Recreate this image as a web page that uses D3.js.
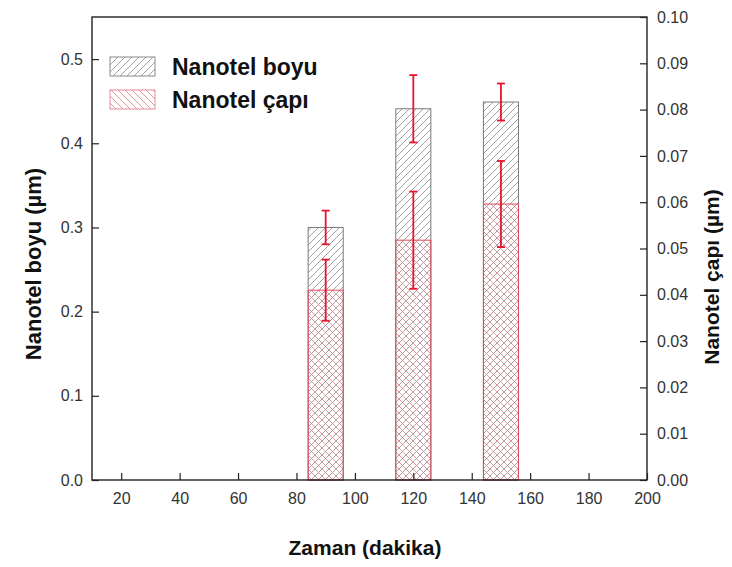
<!DOCTYPE html>
<html>
<head>
<meta charset="utf-8">
<script src="https://cdn.jsdelivr.net/npm/d3@7"></script>
<style>
  html, body { margin: 0; padding: 0; background: #fff; }
  svg { display: block; }
  text { font-family: "Liberation Sans", Arial, sans-serif; }
</style>
</head>
<body>
<svg id="chart" width="732" height="567"></svg>
<script>
// Growth time (minutes) and measured nanowire dimensions
const times = [90, 120, 150];
const lengthMean = [0.300, 0.441, 0.449];   // Nanotel boyu (µm), left axis
const lengthErr = [0.020, 0.040, 0.022];
const diameterMean = [0.0410, 0.0518, 0.0596]; // Nanotel çapı (µm), right axis
const diameterErr = [0.0066, 0.0105, 0.0093];

const xTicks = [20, 40, 60, 80, 100, 120, 140, 160, 180, 200];
const leftTicks = [0.0, 0.1, 0.2, 0.3, 0.4, 0.5];
const rightTicks = [0.00, 0.01, 0.02, 0.03, 0.04, 0.05, 0.06, 0.07, 0.08, 0.09, 0.10];
const barWidthMin = 12;

const margin = { left: 92, right: 85, top: 17, bottom: 87 };
const W = 732, H = 567;
const svg = d3.select("#chart");

const x = d3.scaleLinear().domain([10, 200]).range([margin.left, W - margin.right]);
const yL = d3.scaleLinear().domain([0, 0.55]).range([H - margin.bottom, margin.top]);
const yR = d3.scaleLinear().domain([0, 0.10]).range([H - margin.bottom, margin.top]);

// Hatch patterns
const defs = svg.append("defs");
const pBoy = defs.append("pattern").attr("id", "hatchBoy")
  .attr("patternUnits", "userSpaceOnUse").attr("width", 7).attr("height", 7);
pBoy.append("path").attr("d", "M-1,8 L8,-1 M-2,2 L2,-2 M5,9 L9,5")
  .attr("stroke", "#8a8a8a").attr("stroke-width", 0.8);
const pCap = defs.append("pattern").attr("id", "hatchCap")
  .attr("patternUnits", "userSpaceOnUse").attr("width", 7).attr("height", 7);
pCap.append("path").attr("d", "M-1,-1 L8,8 M-2,5 L2,9 M5,-2 L9,2")
  .attr("stroke", "#e07a88").attr("stroke-width", 0.8);

const y0 = H - margin.bottom;

// Length bars (gray hatch)
svg.append("g").selectAll("rect").data(times).join("rect")
  .attr("x", (d) => x(d - barWidthMin / 2))
  .attr("width", (d) => x(d + barWidthMin / 2) - x(d - barWidthMin / 2))
  .attr("y", (d, i) => yL(lengthMean[i]))
  .attr("height", (d, i) => y0 - yL(lengthMean[i]))
  .attr("fill", "url(#hatchBoy)")
  .attr("stroke", "#7a7a7a").attr("stroke-width", 1);

// Diameter bars (red hatch) overlaid
svg.append("g").selectAll("rect").data(times).join("rect")
  .attr("x", (d) => x(d - barWidthMin / 2))
  .attr("width", (d) => x(d + barWidthMin / 2) - x(d - barWidthMin / 2))
  .attr("y", (d, i) => yR(diameterMean[i]))
  .attr("height", (d, i) => y0 - yR(diameterMean[i]))
  .attr("fill", "url(#hatchCap)")
  .attr("stroke", "#e04a5c").attr("stroke-width", 1);

// Error bars
function errorBars(means, errs, scale) {
  const g = svg.append("g").attr("stroke", "#e8142e").attr("stroke-width", 1.8).attr("fill", "none");
  times.forEach((t, i) => {
    const cx = x(t);
    const top = scale(means[i] + errs[i]);
    const bot = scale(means[i] - errs[i]);
    g.append("line").attr("x1", cx).attr("x2", cx).attr("y1", top).attr("y2", bot);
    g.append("line").attr("x1", cx - 4).attr("x2", cx + 4).attr("y1", top).attr("y2", top);
    g.append("line").attr("x1", cx - 4).attr("x2", cx + 4).attr("y1", bot).attr("y2", bot);
  });
}
errorBars(lengthMean, lengthErr, yL);
errorBars(diameterMean, diameterErr, yR);

// Frame
svg.append("rect")
  .attr("x", margin.left).attr("y", margin.top)
  .attr("width", W - margin.right - margin.left)
  .attr("height", H - margin.bottom - margin.top)
  .attr("fill", "none").attr("stroke", "#111").attr("stroke-width", 1.3);

const tickColor = "#222";
const labelColor = "#333";
const tickFont = 16;

// Bottom axis (ticks inward)
const xAxis = svg.append("g").attr("transform", `translate(0,${y0})`);
xAxis.call(d3.axisBottom(x).tickValues(d3.range(10, 201, 10)).tickSize(-4).tickFormat(""));
xAxis.call(d3.axisBottom(x).tickValues(xTicks).tickSize(-7).tickFormat(d3.format("d")).tickPadding(13));
xAxis.selectAll(".domain").remove();
xAxis.selectAll("line").attr("stroke", tickColor).attr("stroke-width", 1.2);
xAxis.selectAll("text").attr("font-size", tickFont).attr("fill", labelColor)
  .attr("font-family", "'Liberation Sans', Arial, sans-serif");

// Left axis
const lAxis = svg.append("g").attr("transform", `translate(${margin.left},0)`);
lAxis.call(d3.axisLeft(yL).tickValues(d3.range(0, 0.551, 0.05)).tickSize(-4).tickFormat(""));
lAxis.call(d3.axisLeft(yL).tickValues(leftTicks).tickSize(-7).tickFormat(d3.format(".1f")).tickPadding(9));
lAxis.selectAll(".domain").remove();
lAxis.selectAll("line").attr("stroke", tickColor).attr("stroke-width", 1.2);
lAxis.selectAll("text").attr("font-size", tickFont).attr("fill", labelColor)
  .attr("font-family", "'Liberation Sans', Arial, sans-serif");

// Right axis
const rAxis = svg.append("g").attr("transform", `translate(${W - margin.right},0)`);
rAxis.call(d3.axisRight(yR).tickValues(d3.range(0, 0.1001, 0.005)).tickSize(-4).tickFormat(""));
rAxis.call(d3.axisRight(yR).tickValues(rightTicks).tickSize(-7).tickFormat(d3.format(".2f")).tickPadding(10));
rAxis.selectAll(".domain").remove();
rAxis.selectAll("line").attr("stroke", tickColor).attr("stroke-width", 1.2);
rAxis.selectAll("text").attr("font-size", tickFont).attr("fill", labelColor)
  .attr("font-family", "'Liberation Sans', Arial, sans-serif");

// Axis titles
svg.append("text").attr("x", 365).attr("y", 555)
  .attr("text-anchor", "middle").attr("font-size", 21).attr("font-weight", "bold").attr("fill", "#111")
  .text("Zaman (dakika)");
svg.append("text").attr("transform", `translate(41,264) rotate(-90)`)
  .attr("text-anchor", "middle").attr("font-size", 22).attr("font-weight", "bold").attr("fill", "#111")
  .text("Nanotel boyu (µm)");
svg.append("text").attr("transform", `translate(719,277) rotate(-90)`)
  .attr("text-anchor", "middle").attr("font-size", 21).attr("font-weight", "bold").attr("fill", "#111")
  .text("Nanotel çapı (µm)");

// Legend
const legend = [
  { label: "Nanotel boyu", fill: "url(#hatchBoy)", stroke: "#8a8a8a" },
  { label: "Nanotel çapı", fill: "url(#hatchCap)", stroke: "#e88a98" }
];
const lg = svg.append("g");
legend.forEach((d, i) => {
  const yy = 57 + i * 33;
  lg.append("rect").attr("x", 110).attr("y", yy).attr("width", 45).attr("height", 19)
    .attr("fill", d.fill).attr("stroke", d.stroke).attr("stroke-width", 1);
  lg.append("text").attr("x", 172).attr("y", yy + 18)
    .attr("font-size", 23).attr("font-weight", "bold").attr("fill", "#111").text(d.label);
});
</script>
</body>
</html>
